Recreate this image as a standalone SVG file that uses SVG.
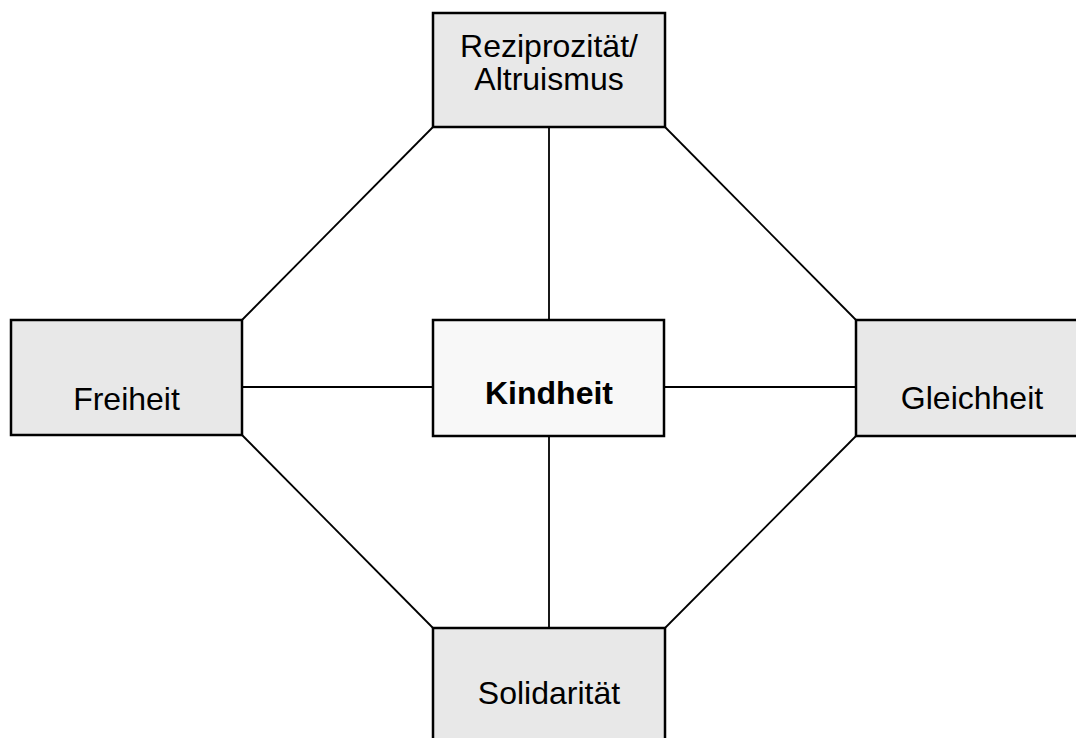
<svg xmlns="http://www.w3.org/2000/svg" width="1076" height="738" viewBox="0 0 1076 738">
<style>
.box{fill:#e8e8e8;stroke:#000;stroke-width:2.5}
.center{fill:#f8f8f8;stroke:#000;stroke-width:2.5}
.t{font-family:"Liberation Sans",Arial,sans-serif;font-size:32px;text-anchor:middle;fill:#000}
.b{font-weight:bold}
.c line{stroke:#000;stroke-width:1.8}
</style>
<rect width="1076" height="738" fill="#fff"/>
<g class="c" id="connectors">
<line x1="433" y1="127" x2="242" y2="320"/>
<line x1="665" y1="127" x2="856" y2="320"/>
<line x1="242" y1="435" x2="433" y2="628"/>
<line x1="856" y1="436" x2="665" y2="628"/>
<line x1="549" y1="127" x2="549" y2="320"/>
<line x1="549" y1="436" x2="549" y2="628"/>
<line x1="242" y1="387" x2="433" y2="387"/>
<line x1="664" y1="387" x2="856" y2="387"/>
</g>
<g id="top">
<rect class="box" x="433" y="13" width="232" height="114"/>
<text class="t" x="549" y="57">Reziprozität/</text>
<text class="t" x="549" y="90">Altruismus</text>
</g>
<g id="left">
<rect class="box" x="11" y="320" width="231" height="115"/>
<text class="t" x="126.5" y="410">Freiheit</text>
</g>
<g id="center">
<rect class="center" x="433" y="320" width="231" height="116"/>
<text class="t b" x="549" y="404">Kindheit</text>
</g>
<g id="right">
<rect class="box" x="856" y="320" width="232" height="116"/>
<text class="t" x="972" y="409">Gleichheit</text>
</g>
<g id="bottom">
<rect class="box" x="433" y="628" width="232" height="116"/>
<text class="t" x="549" y="704">Solidarität</text>
</g>
</svg>
